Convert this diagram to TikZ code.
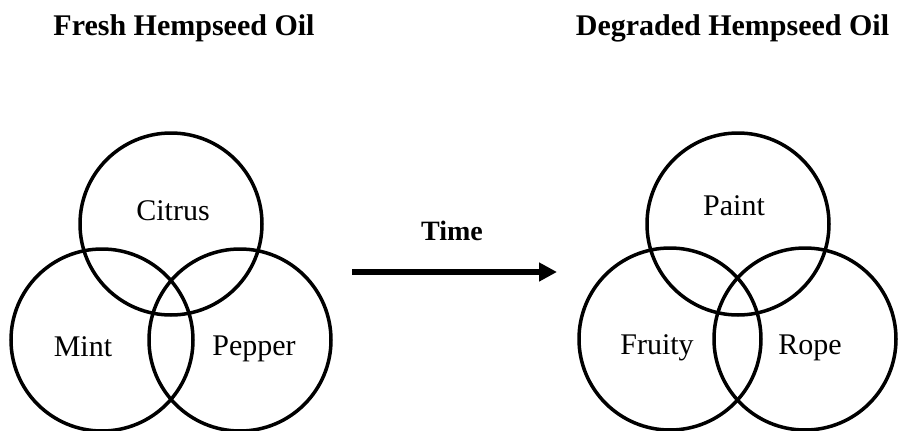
\documentclass[tikz,border=0pt]{standalone}
\usepackage{fontspec}
\setmainfont{Liberation Serif}
\usetikzlibrary{arrows.meta}

\begin{document}
\begin{tikzpicture}[x=1pt, y=-1pt,
			% one circle of a venn diagram
			ring/.style={circle, draw=black, line width=3.5pt, minimum size=182pt, inner sep=0pt},
			% flavour written inside a circle
			flavour/.style={anchor=base, inner sep=0pt, font=\fontsize{30}{36}\selectfont},
			% bold titles
			heading/.style={anchor=base, inner sep=0pt, font=\fontsize{30}{36}\selectfont\bfseries}
		]
		\useasboundingbox (0,0) rectangle (898,431);

		%Titles
		\node[heading]          (fresh)         at (184,35)                                 {Fresh Hempseed Oil};
		\node[heading]          (degraded)      at (732.5,35)                               {Degraded Hempseed Oil};

		%Fresh oil
		\node[ring]             (citrus)        at (171,224)                                {};
		\node[ring]             (mint)          at (102,340)                                {};
		\node[ring]             (pepper)        at (240,340)                                {};
		\node[flavour]          (citrustext)    at (173,220)                                {Citrus};
		\node[flavour]          (minttext)      at (83,356)                                 {Mint};
		\node[flavour]          (peppertext)    at (254,355)                                {Pepper};

		%Degraded oil
		\node[ring]             (paint)         at (738,224)                                {};
		\node[ring]             (fruity)        at (670,339)                                {};
		\node[ring]             (rope)          at (805,339)                                {};
		\node[flavour]          (painttext)     at (734,215)                                {Paint};
		\node[flavour]          (fruitytext)    at (657,354)                                {Fruity};
		\node[flavour]          (ropetext)      at (810,354)                                {Rope};

		%Arrow
		\node[heading, font=\fontsize{28}{34}\selectfont\bfseries] (time) at (452,240) {Time};
		\coordinate             (timestart)     at (352,272);
		\coordinate             (timeend)       at (557,272);
		\draw[line width=6pt, -{Triangle[length=18pt, width=18pt]}] (timestart) -- (timeend);
	\end{tikzpicture}
\end{document}
